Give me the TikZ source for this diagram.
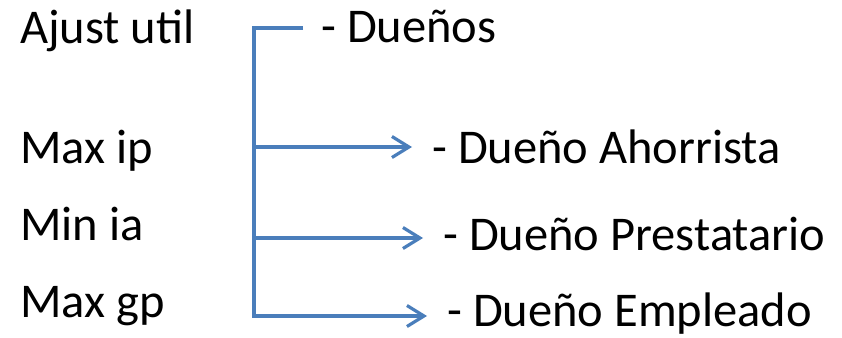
\documentclass[tikz,border=0pt]{standalone}
\usepackage{fontspec}
\setmainfont{Carlito}
\usetikzlibrary{arrows.meta}
\definecolor{lineblue}{HTML}{4A7EBB}
\begin{document}
\begin{tikzpicture}[x=1pt,y=-1pt,
  txt/.style={anchor=base west, inner sep=0pt, font=\fontsize{48.5}{58}\selectfont},
  conn/.style={draw=lineblue, line width=3.2pt, line join=miter},
  arr/.style={conn, -{Straight Barb[length=17pt,width=21pt,line width=3.2pt]}}]
\useasboundingbox (0,0) rectangle (842,337);
% left labels
\node[txt] (l1) at (20,44) {Ajust util};
\node[txt] (l2) at (20,163) {Max ip};
\node[txt] (l3) at (20,240) {Min ia};
\node[txt] (l4) at (20,317) {Max gp};
% right labels
\node[txt] (r1) at (321,43) {- Dueños};
\node[txt] (r2) at (432,163) {- Dueño Ahorrista};
\node[txt] (r3) at (443,250) {- Dueño Prestatario};
\node[txt] (r4) at (447,326) {- Dueño Empleado};
% bracket coordinates
\coordinate (top) at (254,28);
\coordinate (topend) at (303,28);
\coordinate (j1) at (254,147);
\coordinate (t1) at (412,147);
\coordinate (j2) at (254,238);
\coordinate (t2) at (423,238);
\coordinate (j3) at (254,316);
\coordinate (t3) at (427,316);
\draw[arr] (topend) -- (top) -- (j3) -- (t3);
\draw[arr] (j1) -- (t1);
\draw[arr] (j2) -- (t2);
\end{tikzpicture}
\end{document}
